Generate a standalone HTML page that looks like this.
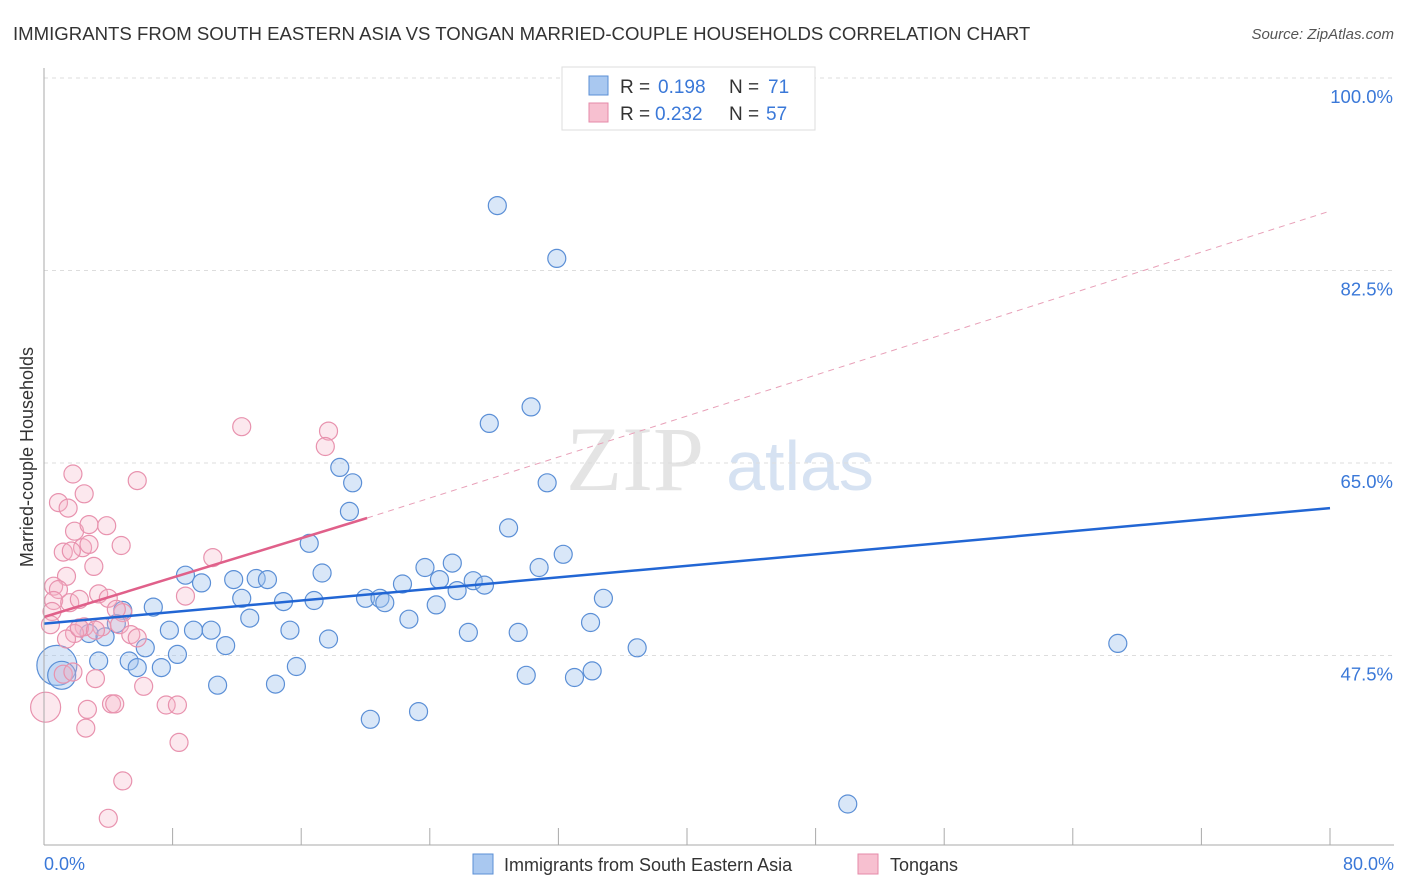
<!DOCTYPE html>
<html><head><meta charset="utf-8"><style>
body{margin:0;background:#fff;font-family:"Liberation Sans",sans-serif;}
svg{display:block}
</style></head><body>
<svg id="chart" width="1406" height="892">
<text x="13" y="40" font-size="18.6" fill="#333">IMMIGRANTS FROM SOUTH EASTERN ASIA VS TONGAN MARRIED-COUPLE HOUSEHOLDS CORRELATION CHART</text>
<text x="1394" y="39" font-size="15" fill="#555" text-anchor="end" font-style="italic">Source: ZipAtlas.com</text>
<text x="33" y="457" font-size="18" fill="#333" text-anchor="middle" transform="rotate(-90 33 457)">Married-couple Households</text>
<text x="635" y="490" font-size="92" fill="#e4e4e4" font-family="Liberation Serif,serif" text-anchor="middle">ZIP</text>
<text x="800" y="490" font-size="70" fill="#d6e2f2" text-anchor="middle">atlas</text>
<g id="grid"></g><g id="ticks"></g><g id="pts"></g><g id="lines"></g>
<line x1="44" y1="68" x2="44" y2="845" stroke="#aaa"/>
<line x1="44" y1="845" x2="1394" y2="845" stroke="#aaa"/>
<text x="44" y="870" font-size="18" fill="#3a78d8">0.0%</text>
<text x="1394" y="870" font-size="18" fill="#3a78d8" text-anchor="end">80.0%</text>
<g>
<rect x="562" y="67" width="253" height="63" fill="#fff" stroke="#ddd"/>
<rect x="589" y="76" width="19" height="19" fill="#a9c8f0" stroke="#5b8fd6"/>
<rect x="589" y="103" width="19" height="19" fill="#f7c0d0" stroke="#e58aa8"/>
<text x="620" y="93" font-size="19" fill="#333">R =</text><text x="658" y="93" font-size="19" fill="#3a78d8">0.198</text>
<text x="729" y="93" font-size="19" fill="#333">N =</text><text x="768" y="93" font-size="19" fill="#3a78d8">71</text>
<text x="620" y="120" font-size="19" fill="#333">R =</text><text x="655" y="120" font-size="19" fill="#3a78d8">0.232</text>
<text x="729" y="120" font-size="19" fill="#333">N =</text><text x="766" y="120" font-size="19" fill="#3a78d8">57</text>
</g>
<g>
<rect x="473" y="854" width="20" height="20" fill="#a9c8f0" stroke="#5b8fd6"/>
<text x="504" y="871" font-size="18" fill="#333">Immigrants from South Eastern Asia</text>
<rect x="858" y="854" width="20" height="20" fill="#f7c0d0" stroke="#e58aa8"/>
<text x="890" y="871" font-size="18" fill="#333">Tongans</text>
</g>
</svg>
<script>
const yTicks=[100,82.5,65,47.5];
const yTickLabels=["100.0%","82.5%","65.0%","47.5%"];
const xTicks=[0,8,16,24,32,40,48,56,64,72,80];
const blueX=[28.2,31.9,30.3,27.7,18.4,19.2,31.3,19.0,28.9,16.5,32.3,30.8,23.7,25.4,17.3,8.8,9.8,11.8,13.2,13.9,22.3,24.6,26.7,27.4,25.7,20.0,20.9,21.2,12.3,14.9,16.8,34.8,24.4,6.8,4.9,12.8,22.7,34.0,4.5,7.8,9.3,10.4,15.3,26.4,29.5,2.8,3.8,17.7,6.3,11.3,36.9,66.8,8.3,3.4,5.3,5.8,7.3,15.7,0.8,1.1,30.0,34.1,33.0,10.8,14.4,20.3,23.3,50.0];
const blueY=[88.4,83.6,70.1,68.6,64.6,63.2,63.2,60.6,59.1,57.7,56.7,55.5,55.5,55.9,55.0,54.8,54.1,54.4,54.5,54.4,54.0,54.4,54.3,53.9,53.4,52.7,52.7,52.3,52.7,52.4,52.5,52.7,52.1,51.9,51.6,50.9,50.8,50.5,50.4,49.8,49.8,49.8,49.8,49.6,49.6,49.5,49.2,49.0,48.2,48.4,48.2,48.6,47.6,47.0,47.0,46.4,46.4,46.5,46.6,45.7,45.7,46.1,45.5,44.8,44.9,41.7,42.4,34.0];
const blueR=[9,9,9,9,9,9,9,9,9,9,9,9,9,9,9,9,9,9,9,9,9,9,9,9,9,9,9,9,9,9,9,9,9,9,9,9,9,9,9,9,9,9,9,9,9,9,9,9,9,9,9,9,9,9,9,9,9,9,20,14,9,9,9,9,9,9,9,9];
const pinkX=[1.8,5.8,12.3,17.7,17.5,0.9,2.5,1.5,1.9,2.8,3.9,2.4,1.2,1.7,4.8,2.8,10.5,3.1,1.4,0.6,0.9,8.8,3.4,0.6,1.6,2.2,4.0,4.9,4.5,0.5,0.4,2.5,2.2,4.7,3.6,5.4,1.9,5.8,1.4,2.2,3.2,6.2,3.2,1.2,0.1,2.7,2.6,4.2,4.4,7.6,8.3,8.4,4.9,4.0,1.8];
const pinkY=[64.0,63.4,68.3,67.9,66.5,61.4,62.2,60.9,58.8,59.4,59.3,57.3,56.9,57.0,57.5,57.6,56.4,55.6,54.7,53.8,53.5,52.9,53.1,52.5,52.3,52.6,52.7,51.4,51.7,51.5,50.3,50.1,50.0,50.3,50.1,49.4,49.5,49.1,49.0,50.0,49.8,44.7,45.4,45.8,42.8,42.6,40.9,43.1,43.1,43.0,43.0,39.6,36.1,32.7,46.0];
const blueTrend=[0.0,50.4,80,60.9];
const pinkTrend=[0.0,51.0,20.1,60.0,80,87.9];
const X0=44,XS=1286/80,Y0=78,YS=11;
const sx=v=>X0+v*XS, sy=v=>Y0+(100-v)*YS;
const NS="http://www.w3.org/2000/svg";
function mk(t,a,p){const e=document.createElementNS(NS,t);for(const k in a)e.setAttribute(k,a[k]);document.getElementById(p).appendChild(e);return e;}
yTicks.forEach((t,i)=>{
 const g=mk('line',{x1:44,x2:1394,y1:sy(t),y2:sy(t),stroke:'#ddd','stroke-dasharray':'4,4'},'grid');
 
 
 const l=mk('text',{x:1393,y:sy(t)+25,'font-size':18.5,fill:'#3a78d8','text-anchor':'end'},'grid');
 l.textContent=yTickLabels[i];
 
 
});
xTicks.forEach(t=>{
 const e=mk('line',{x1:sx(t),x2:sx(t),y1:828,y2:845,stroke:'#aaa'},'ticks');
 
 
});
blueX.forEach((x,i)=>{
 const c=mk('circle',{cx:sx(x),cy:sy(blueY[i]),r:blueR[i],fill:'rgba(160,195,238,0.4)',stroke:'#5b8fd6','stroke-width':1.2},'pts');
 
 
});
pinkX.forEach((x,i)=>{
 const r=(i==44)?15:9;
 const c=mk('circle',{cx:sx(x),cy:sy(pinkY[i]),r:r,fill:'rgba(246,180,200,0.3)',stroke:'#e892ae','stroke-width':1.2},'pts');
 
 
});
const bl=mk('line',{x1:sx(blueTrend[0]),y1:sy(blueTrend[1]),x2:sx(blueTrend[2]),y2:sy(blueTrend[3]),stroke:'#2266d4','stroke-width':2.5},'lines');


const pl=mk('line',{x1:sx(pinkTrend[0]),y1:sy(pinkTrend[1]),x2:sx(pinkTrend[2]),y2:sy(pinkTrend[3]),stroke:'#e0608a','stroke-width':2.5},'lines');


const pd=mk('line',{x1:sx(pinkTrend[2]),y1:sy(pinkTrend[3]),x2:sx(pinkTrend[4]),y2:sy(pinkTrend[5]),stroke:'#e8a0b8','stroke-width':1,'stroke-dasharray':'6,5'},'lines');


</script>
</body></html>
